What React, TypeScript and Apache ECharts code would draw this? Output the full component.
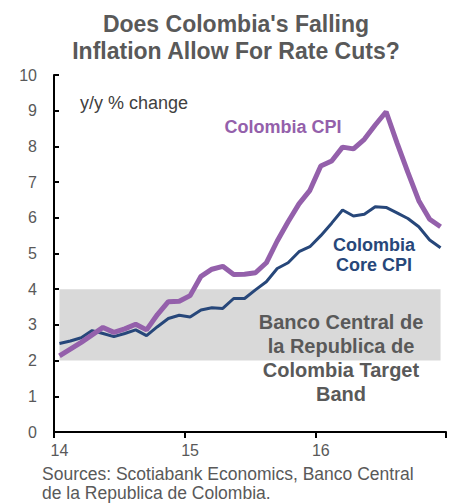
import React, { useEffect, useRef } from "react";
import * as echarts from "echarts";

const years = ["14", "15", "16"];
const monthsPerYear = 12;
const categories: string[] = years.flatMap((y) =>
  Array.from({ length: monthsPerYear }, (_, i) => `${y}-${String(i + 1).padStart(2, "0")}`)
);

const cpi = [
  2.13, 2.32, 2.51, 2.72, 2.93, 2.79, 2.89, 3.02, 2.86, 3.29, 3.65, 3.66,
  3.82, 4.36, 4.56, 4.64, 4.41, 4.42, 4.46, 4.74, 5.35, 5.89, 6.39, 6.77,
  7.45, 7.59, 7.98, 7.93, 8.2, 8.6, 8.97, 8.1, 7.27, 6.48, 5.96, 5.75,
];

const coreCpi = [
  2.48, 2.55, 2.64, 2.84, 2.76, 2.67, 2.76, 2.86, 2.7, 2.95, 3.18, 3.27,
  3.22, 3.42, 3.48, 3.46, 3.74, 3.74, 3.98, 4.21, 4.58, 4.74, 5.05, 5.19,
  5.5, 5.85, 6.22, 6.05, 6.1, 6.31, 6.29, 6.14, 5.98, 5.75, 5.38, 5.16,
];

const bandLow = 2;
const bandHigh = 4;

const PURPLE = "#9460ab";
const NAVY = "#27477a";
const GREY_TEXT = "#595959";

export default function App() {
  const ref = useRef<HTMLDivElement>(null);
  useEffect(() => {
    if (!ref.current) return;
    const chart = echarts.init(ref.current, undefined, { renderer: "svg" });
    const font = "Liberation Sans, Arial, sans-serif";
    chart.setOption({
      animation: false,
      backgroundColor: "#ffffff",
      grid: { left: 54, right: 9, top: 75, bottom: 71, containLabel: false },
      xAxis: {
        type: "category",
        data: categories,
        boundaryGap: true,
        axisLine: { lineStyle: { color: "#000", width: 2 } },
        axisTick: {
          show: true,
          interval: (i: number) => i % monthsPerYear === 0,
          length: 6,
          inside: false,
          lineStyle: { color: "#000", width: 2 },
        },
        axisLabel: {
          interval: (i: number) => i % monthsPerYear === 0,
          formatter: (v: string) => v.slice(0, 2),
          color: GREY_TEXT,
          fontSize: 16,
          fontFamily: font,
          margin: 10,
        },
        splitLine: { show: false },
      },
      yAxis: {
        type: "value",
        min: 0,
        max: 10,
        interval: 1,
        axisLine: { show: true, lineStyle: { color: "#000", width: 2 } },
        axisTick: { show: true, inside: true, length: 5, lineStyle: { color: "#000", width: 2 } },
        axisLabel: { color: GREY_TEXT, fontSize: 16, fontFamily: font, margin: 17 },
        splitLine: { show: false },
      },
      series: [
        {
          name: "Colombia Core CPI",
          type: "line",
          data: coreCpi,
          symbol: "none",
          lineStyle: { color: NAVY, width: 3 },
          z: 3,
          markArea: {
            silent: true,
            itemStyle: { color: "#d9d9d9" },
            data: [
              [
                { xAxis: categories[0], yAxis: bandLow },
                { xAxis: categories[categories.length - 1], yAxis: bandHigh },
              ],
            ],
          },
        },
        {
          name: "Colombia CPI",
          type: "line",
          data: cpi,
          symbol: "none",
          lineStyle: { color: PURPLE, width: 5 },
          z: 4,
        },
      ],
      graphic: [
        {
          type: "text",
          x: 236,
          y: 37,
          style: {
            text: "Does Colombia's Falling\nInflation Allow For Rate Cuts?",
            font: `bold 23px ${font}`,
            fill: GREY_TEXT,
            align: "center",
            verticalAlign: "middle",
            lineHeight: 27,
          },
        },
        {
          type: "text",
          x: 80,
          y: 103,
          style: {
            text: "y/y % change",
            font: `18px ${font}`,
            fill: "#404040",
            verticalAlign: "middle",
          },
        },
        {
          type: "text",
          x: 283,
          y: 127,
          style: {
            text: "Colombia CPI",
            font: `bold 18px ${font}`,
            fill: PURPLE,
            align: "center",
            verticalAlign: "middle",
          },
        },
        {
          type: "text",
          x: 374,
          y: 255,
          style: {
            text: "Colombia\nCore CPI",
            font: `bold 18px ${font}`,
            fill: NAVY,
            align: "center",
            verticalAlign: "middle",
            lineHeight: 20,
          },
        },
        {
          type: "text",
          x: 341,
          y: 358,
          z: 10,
          style: {
            text: "Banco Central de\nla Republica de\nColombia Target\nBand",
            font: `bold 20px ${font}`,
            fill: GREY_TEXT,
            align: "center",
            verticalAlign: "middle",
            lineHeight: 24,
          },
        },
        {
          type: "text",
          x: 42,
          y: 483,
          style: {
            text: "Sources: Scotiabank Economics, Banco Central\nde la Republica de Colombia.",
            font: `17.5px ${font}`,
            fill: GREY_TEXT,
            verticalAlign: "middle",
            lineHeight: 19,
          },
        },
      ],
    });
    return () => chart.dispose();
  }, []);
  return (
    <div
      ref={ref}
      style={{ position: "fixed", left: 0, top: 0, width: 455, height: 503 }}
    />
  );
}
